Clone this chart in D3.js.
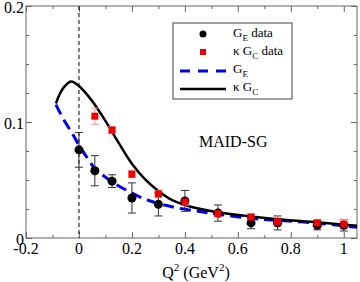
<!DOCTYPE html>
<html>
<head>
<meta charset="utf-8">
<script src="https://cdn.jsdelivr.net/npm/d3@7"></script>
<style>
  body { margin: 0; background: #fff; }
</style>
</head>
<body>
<div id="chart"></div>
<script>
// data
var q2Data = [0, 0.06, 0.125, 0.2, 0.3, 0.4, 0.525, 0.65, 0.75, 0.9, 1.0];
var geData = [0.076, 0.058, 0.049, 0.0345, 0.029, 0.032, 0.0215, 0.013, 0.013, 0.011, 0.011];
var geErr  = [0.015, 0.013, 0.0055, 0.013, 0.01, 0.009, 0.007, 0.005, 0.006, 0.004, 0.005];
var kgcData = [null, 0.105, 0.093, 0.055, 0.038, 0.031, 0.021, 0.018, 0.014, 0.013, 0.012];
var kgcErr  = [null, 0.007, 0.003, 0.003, 0.003, 0.003, 0.003, 0.003, 0.004, 0.003, 0.004];

// MAID-SG curves
var q2Kgc = [-0.087, -0.06, -0.03, 0, 0.05, 0.1, 0.15, 0.2, 0.25, 0.3, 0.35, 0.4, 0.46, 0.525, 0.65, 0.75, 0.9, 1.05];
var kgcCurve = [0.116, 0.129, 0.135, 0.131, 0.118, 0.101, 0.082, 0.064, 0.0505, 0.0405, 0.0328, 0.0285, 0.025, 0.0222, 0.0186, 0.0162, 0.0135, 0.0105];
var q2Ge = [-0.087, -0.06, -0.026, 0, 0.042, 0.06, 0.128, 0.192, 0.257, 0.355, 0.457, 0.525, 0.65, 0.75, 0.9, 1.05];
var geCurve = [0.115, 0.103, 0.0905, 0.080, 0.0655, 0.060, 0.048, 0.0397, 0.0328, 0.0267, 0.0228, 0.0205, 0.017, 0.0152, 0.0128, 0.0092];

var xMajor = [-0.2, 0, 0.2, 0.4, 0.6, 0.8, 1];
var xMinor = [-0.1, 0.1, 0.3, 0.5, 0.7, 0.9];
var yMajor = [0, 0.1, 0.2];
var yMinor = [0.025, 0.05, 0.075, 0.125, 0.15, 0.175];

var width = 360, height = 282;
var margin = {top: 6, right: 3, bottom: 44, left: 26};
var serif = "Liberation Serif, DejaVu Serif, serif";

var svg = d3.select("#chart").append("svg")
    .attr("width", width)
    .attr("height", height)
    .style("font-family", serif);

var x = d3.scaleLinear().domain([-0.2, 1.05]).range([margin.left, width - margin.right]);
var y = d3.scaleLinear().domain([0, 0.2]).range([height - margin.bottom, margin.top]);

var frameColor = "#666";

//ticks on all four sides, pointing inward
function tickAxis(axis, vals, size, pos) {
  var g = svg.append("g")
      .attr("transform", pos)
      .call(axis.tickValues(vals).tickSize(size).tickFormat(""));
  g.select(".domain").remove();
  g.selectAll("line").attr("stroke", frameColor);
  return g;
}
tickAxis(d3.axisBottom(x), xMajor, -6, "translate(0," + y(0) + ")");
tickAxis(d3.axisBottom(x), xMinor, -3, "translate(0," + y(0) + ")");
tickAxis(d3.axisTop(x), xMajor, -6, "translate(0," + y(0.2) + ")");
tickAxis(d3.axisTop(x), xMinor, -3, "translate(0," + y(0.2) + ")");
tickAxis(d3.axisLeft(y), yMajor, -6, "translate(" + x(-0.2) + ",0)");
tickAxis(d3.axisLeft(y), yMinor, -3, "translate(" + x(-0.2) + ",0)");
tickAxis(d3.axisRight(y), yMajor, -6, "translate(" + x(1.05) + ",0)");
tickAxis(d3.axisRight(y), yMinor, -3, "translate(" + x(1.05) + ",0)");

svg.append("rect")
    .attr("x", x(-0.2)).attr("y", y(0.2))
    .attr("width", x(1.05) - x(-0.2)).attr("height", y(0) - y(0.2))
    .attr("fill", "none").attr("stroke", frameColor).attr("stroke-width", 1);

//tick labels
svg.selectAll(".xlab").data(xMajor).enter().append("text")
    .attr("x", function(d) { return x(d); })
    .attr("y", 254)
    .attr("text-anchor", "middle")
    .attr("font-size", 16)
    .text(function(d) { return String(d); });

svg.selectAll(".ylab").data(yMajor).enter().append("text")
    .attr("x", 24)
    .attr("y", function(d) { return y(d) + 7; })
    .attr("text-anchor", "end")
    .attr("font-size", 16)
    .text(function(d) { return d; });

//axis title
var xt = svg.append("text")
    .attr("x", 196).attr("y", 278)
    .attr("text-anchor", "middle")
    .attr("font-size", 16);
xt.append("tspan").text("Q");
xt.append("tspan").attr("dy", -7).attr("font-size", 11).text("2");
xt.append("tspan").attr("dy", 7).text(" (GeV");
xt.append("tspan").attr("dy", -7).attr("font-size", 11).text("2");
xt.append("tspan").attr("dy", 7).text(")");

//dashed line at Q2 = 0
svg.append("line")
    .attr("x1", x(0)).attr("x2", x(0))
    .attr("y1", y(0.2)).attr("y2", y(0))
    .attr("stroke", "#000").attr("stroke-width", 1)
    .attr("stroke-dasharray", "4,3");

//curves
var line = d3.line()
    .x(function(d) { return x(d[0]); })
    .y(function(d) { return y(d[1]); })
    .curve(d3.curveCatmullRom);

svg.append("path")
    .datum(d3.zip(q2Ge, geCurve))
    .attr("d", line)
    .attr("fill", "none").attr("stroke", "#0000ee")
    .attr("stroke-width", 3).attr("stroke-dasharray", "11,6");

svg.append("path")
    .datum(d3.zip(q2Kgc, kgcCurve))
    .attr("d", line)
    .attr("fill", "none").attr("stroke", "#000")
    .attr("stroke-width", 2.5);

//error bars
function errBars(vals, errs, color) {
  var pts = q2Data.map(function(q, i) { return {q: q, v: vals[i], e: errs[i]}; })
      .filter(function(d) { return d.v != null; });
  var g = svg.append("g").attr("stroke", color).attr("stroke-width", 1);
  g.selectAll(".v").data(pts).enter().append("line")
      .attr("x1", function(d) { return x(d.q); }).attr("x2", function(d) { return x(d.q); })
      .attr("y1", function(d) { return y(d.v + d.e); }).attr("y2", function(d) { return y(d.v - d.e); });
  [1, -1].forEach(function(s) {
    g.selectAll(".c" + s).data(pts).enter().append("line")
        .attr("x1", function(d) { return x(d.q) - 4; }).attr("x2", function(d) { return x(d.q) + 4; })
        .attr("y1", function(d) { return y(d.v + s * d.e); }).attr("y2", function(d) { return y(d.v + s * d.e); });
  });
}
errBars(geData, geErr, "#333");
errBars(kgcData, kgcErr, "#e49a9a");

svg.selectAll(".ge").data(q2Data).enter().append("circle")
    .attr("cx", function(d) { return x(d); })
    .attr("cy", function(d, i) { return y(geData[i]); })
    .attr("r", 4.5)
    .attr("fill", "#000");

svg.selectAll(".kgc").data(q2Data.filter(function(d, i) { return kgcData[i] != null; }))
    .enter().append("rect")
    .attr("x", function(d) { return x(d) - 3.5; })
    .attr("y", function(d) { return y(kgcData[q2Data.indexOf(d)]) - 3.5; })
    .attr("width", 7).attr("height", 7)
    .attr("fill", "#ee0000");

//model label
svg.append("text")
    .attr("x", 199).attr("y", 147)
    .attr("font-size", 16)
    .text("MAID-SG");

//legend
var leg = svg.append("g");
leg.append("rect")
    .attr("x", 173).attr("y", 23).attr("width", 119).attr("height", 76)
    .attr("fill", "#fff").attr("stroke", "#444").attr("stroke-width", 1);

leg.append("circle").attr("cx", 203).attr("cy", 34).attr("r", 3.5).attr("fill", "#000");
leg.append("rect").attr("x", 200).attr("y", 49).attr("width", 6).attr("height", 6).attr("fill", "#ee0000");
leg.append("line").attr("x1", 180).attr("x2", 226).attr("y1", 71).attr("y2", 71)
    .attr("stroke", "#0000ee").attr("stroke-width", 3).attr("stroke-dasharray", "10,8");
leg.append("line").attr("x1", 180).attr("x2", 226).attr("y1", 89).attr("y2", 89)
    .attr("stroke", "#000").attr("stroke-width", 2.5);

var legItems = [["", "G", "E", " data"], ["\u03ba ", "G", "C", " data"], ["", "G", "E", ""], ["\u03ba ", "G", "C", ""]];
var legY = [37, 55, 73, 91];
legItems.forEach(function(it, i) {
  var t = leg.append("text").attr("x", 233).attr("y", legY[i]).attr("font-size", 13);
  t.append("tspan").text(it[0] + it[1]);
  t.append("tspan").attr("dy", 4).attr("font-size", 9).text(it[2]);
  if (it[3]) t.append("tspan").attr("dy", -4).text(it[3]);
});
</script>
</body>
</html>
